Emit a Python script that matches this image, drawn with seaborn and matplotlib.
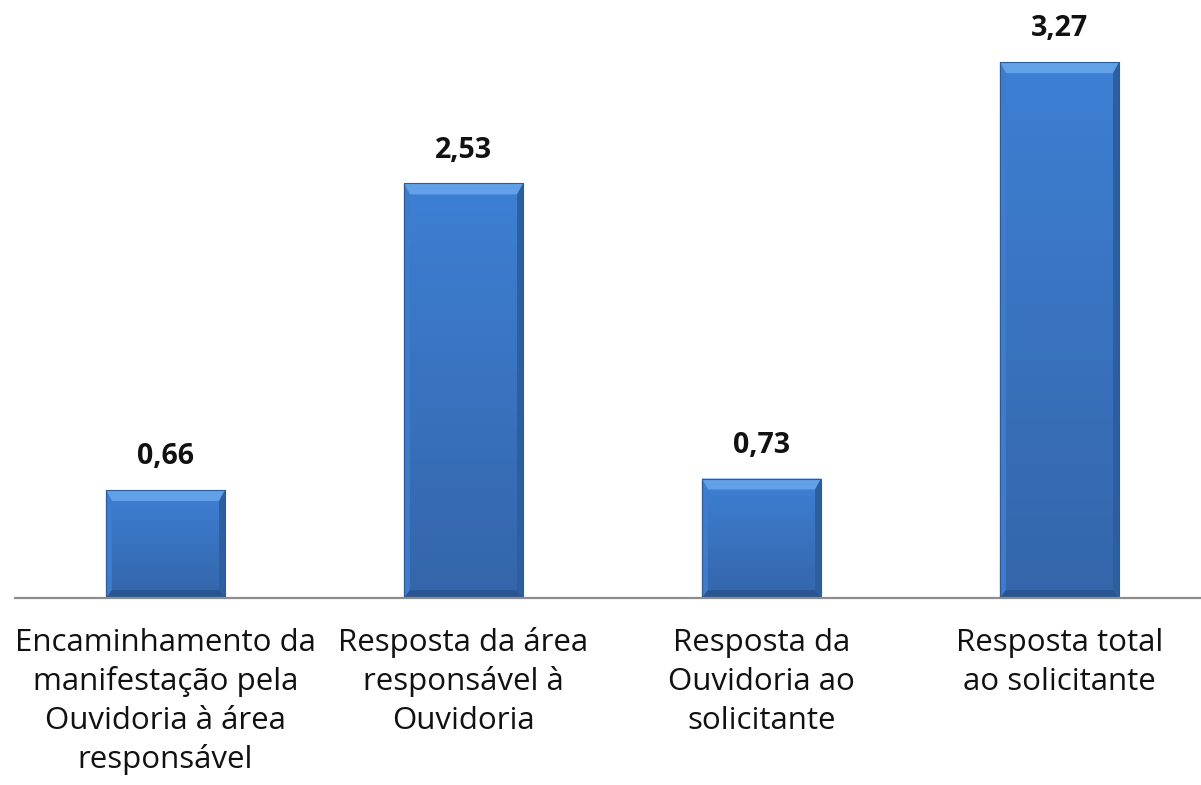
import matplotlib
matplotlib.use('Agg')
import matplotlib.pyplot as plt
from matplotlib.patches import Polygon
from matplotlib.colors import LinearSegmentedColormap
import seaborn as sns
import pandas as pd
import numpy as np

# Data
categories = [
    'Encaminhamento da\nmanifestação pela\nOuvidoria à área\nresponsável',
    'Resposta da área\nresponsável à\nOuvidoria',
    'Resposta da\nOuvidoria ao\nsolicitante',
    'Resposta total\nao solicitante',
]
values = [0.66, 2.53, 0.73, 3.27]
value_labels = ['0,66', '2,53', '0,73', '3,27']

df = pd.DataFrame({'etapa': categories, 'dias': values})

sns.set_style('white')
plt.rcParams['font.family'] = ['Open Sans', 'DejaVu Sans']

fig = plt.figure(figsize=(12.01, 7.85), dpi=100)
ax = fig.add_axes([0.0125, 0.238, 0.9875, 0.762])

sns.barplot(data=df, x='etapa', y='dias', color='#3a78c8', width=0.4,
            saturation=1, ax=ax)

ax.set_xlim(-0.505, 3.475)
ax.set_ylim(0, 3.649)

# face gradient (top lighter, bottom darker)
face_cmap = LinearSegmentedColormap.from_list('face', ['#3565aa', '#3d80d4'])
grad = np.linspace(0, 1, 256).reshape(-1, 1)

# Bevel effect on each bar (sizes in pixels, converted to data units)
px_x = 3.98 / 1186
px_y = 3.649 / 598
bx = 6 * px_x
bt, bb = 11 * px_y, 8 * px_y
bars = list(ax.patches)
for bar in bars:
    bar.set_edgecolor('none')
    x0, w, h = bar.get_x(), bar.get_width(), bar.get_height()
    x1 = x0 + w
    im = ax.imshow(grad, cmap=face_cmap, origin='lower', aspect='auto',
                   extent=(x0, x1, 0, h), zorder=bar.get_zorder() + 0.1)
    im.set_clip_path(bar)
    faces = [
        ([(x0, h), (x1, h), (x1 - bx, h - bt), (x0 + bx, h - bt)], '#62a0e8'),  # top
        ([(x0, 0), (x0, h), (x0 + bx, h - bt), (x0 + bx, bb)], '#3f7ccb'),      # left
        ([(x1, 0), (x1, h), (x1 - bx, h - bt), (x1 - bx, bb)], '#2d5f9f'),      # right
        ([(x0, 0), (x1, 0), (x1 - bx, bb), (x0 + bx, bb)], '#2a5590'),          # bottom
    ]
    for pts, col in faces:
        ax.add_patch(Polygon(pts, closed=True, facecolor=col, edgecolor='none',
                             zorder=bar.get_zorder() + 0.2))
    ax.add_patch(Polygon([(x0, 0), (x0, h), (x1, h), (x1, 0)], closed=True,
                         fill=False, edgecolor='#2b5b98', linewidth=0.8,
                         zorder=bar.get_zorder() + 0.3))

# Value labels above bars
for bar, lab in zip(bars, value_labels):
    ax.annotate(lab, (bar.get_x() + bar.get_width() / 2, bar.get_height()),
                xytext=(0, 18.5), textcoords='offset points', ha='center',
                va='baseline', fontsize=20.5, fontweight='bold', color='#111111')

for side in ['top', 'right', 'left']:
    ax.spines[side].set_visible(False)
ax.spines['bottom'].set_color('#8c8c8c')
ax.spines['bottom'].set_linewidth(1.6)

ax.set_yticks([])
ax.set_xlabel('')
ax.set_ylabel('')
ax.set_xticks(range(len(categories)), [''] * len(categories))
ax.tick_params(axis='x', length=0)

# category labels, one text per line at a fixed baseline step
first_baseline = 38.0   # points below the axis line
line_step = 28.2        # points between baselines
for i, cat in enumerate(categories):
    for j, line in enumerate(cat.split('\n')):
        ax.annotate(line, (i, 0), xycoords=('data', 'axes fraction'),
                    xytext=(0, -(first_baseline + j * line_step)),
                    textcoords='offset points', ha='center', va='baseline',
                    fontsize=22.5, color='#111111', annotation_clip=False)

fig.savefig('out.png', dpi=100)
